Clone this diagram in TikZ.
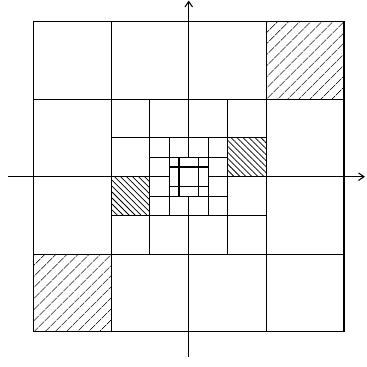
\documentclass[tikz,border=0pt]{standalone}
\usetikzlibrary{patterns.meta, arrows.meta}

\begin{document}
\begin{tikzpicture}[x=2cm, y=2cm,
  grid/.style={line width=0.8pt},
  bighatch/.style={pattern={Lines[angle=45, distance=6.4pt, line width=0.6pt]}},
  smallhatch/.style={pattern={Lines[angle=-45, distance=3.1pt, line width=0.55pt]}},
  axis/.style={-{Straight Barb[length=4pt, width=5.5pt]}, line width=0.8pt}
]
  \useasboundingbox (-2.432,-2.452) rectangle (2.285,2.277);

  % hatched cells
  \fill[bighatch]   (1,1)     rectangle (2,2);
  \fill[bighatch]   (-2,-2)   rectangle (-1,-1);
  \fill[smallhatch] (0.5,0)   rectangle (1,0.5);
  \fill[smallhatch] (-1,-0.5) rectangle (-0.5,0);

  % axes
  \coordinate (xl) at (-2.33,0);
  \coordinate (xr) at (2.27,0);
  \coordinate (yb) at (0,-2.32);
  \coordinate (yt) at (0,2.27);
  \draw[axis] (xl) -- (xr);
  \draw[axis] (yb) -- (yt);
  \fill[white] (-0.25,-0.25) rectangle (0.25,0.25);

  % nested grid
  \foreach \s in {2,1,0.5,0.25} {
    \draw[grid] (-\s,-\s) rectangle (\s,\s);
    \draw[grid] (-\s/2,-\s) -- (-\s/2,\s);
    \draw[grid] (\s/2,-\s)  -- (\s/2,\s);
    \draw[grid] (-\s,-\s/2) -- (\s,-\s/2);
    \draw[grid] (-\s,\s/2)  -- (\s,\s/2);
  }
\end{tikzpicture}
\end{document}
